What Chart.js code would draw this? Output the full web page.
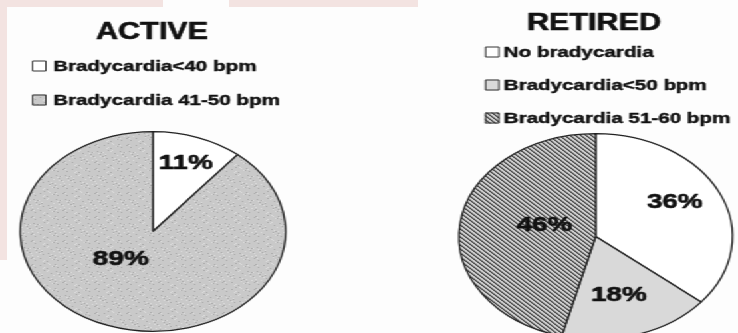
<!DOCTYPE html>
<html><head><meta charset="utf-8">
<script src="https://cdn.jsdelivr.net/npm/chart.js@4/dist/chart.umd.min.js"></script>
<style>
html,body{margin:0;padding:0;background:#fdfdfd;width:738px;height:333px;overflow:hidden;position:relative}
.pink{position:absolute;background:#f3e3e1}
#stage{position:absolute;left:0;top:0;width:555px;height:333px;transform-origin:0 0;transform:scaleX(1.32973)}
#stage canvas{position:absolute;top:0}
</style></head><body>
<div class="pink" style="left:0;top:0;width:163px;height:7px"></div>
<div class="pink" style="left:229px;top:0;width:189px;height:7px"></div>
<div class="pink" style="left:0;top:0;width:7px;height:260px"></div>
<div id="stage">
<canvas id="c1" width="277" height="333" style="left:0"></canvas>
<canvas id="c2" width="278" height="345" style="left:277px"></canvas>
</div>
<script>
// ---- data ----
const titles = ['ACTIVE', 'RETIRED'];
const activeLabels = ['Bradycardia<40 bpm', 'Bradycardia 41-50 bpm'];
const activeValues = [11, 89];
const retiredLabels = ['No bradycardia', 'Bradycardia<50 bpm', 'Bradycardia 51-60 bpm'];
const retiredValues = [36, 18, 46];

// ---- fills ----
function speckle() {
  const c = document.createElement('canvas'); c.width = 24; c.height = 24;
  const g = c.getContext('2d');
  g.fillStyle = '#c9c9c9'; g.fillRect(0, 0, 24, 24);
  for (let y = 0; y < 24; y++) for (let x = 0; x < 24; x++) {
    const h = (x * 37 + y * 91 + x * y * 13) % 17;
    if (h === 0) { g.fillStyle = '#a8a8a8'; g.fillRect(x, y, 1, 1); }
    else if (h === 5) { g.fillStyle = '#dedede'; g.fillRect(x, y, 1, 1); }
  }
  return g.createPattern(c, 'repeat');
}
function hatch() {
  const c = document.createElement('canvas'); c.width = 4; c.height = 4;
  const g = c.getContext('2d');
  g.fillStyle = '#d2d2d2'; g.fillRect(0, 0, 4, 4);
  for (let i = 0; i < 4; i++) {
    g.fillStyle = '#3a3a3a'; g.fillRect(i, i, 1, 1);
    g.fillStyle = '#858585'; g.fillRect((i + 1) % 4, i, 1, 1);
  }
  return g.createPattern(c, 'repeat');
}

const FONT = '"Liberation Sans", Arial, sans-serif';
function boldText(ctx, s, x, y, w) {
  ctx.lineWidth = w; ctx.strokeStyle = '#111'; ctx.lineJoin = 'round';
  ctx.strokeText(s, x, y);
  ctx.fillText(s, x, y);
}
const overlay = {
  id: 'overlay',
  afterDraw(chart, args, o) {
    const ctx = chart.ctx;
    const ds = chart.data.datasets[0];
    ctx.save();
    ctx.fillStyle = '#111';
    ctx.textAlign = 'center'; ctx.textBaseline = 'middle';
    ctx.font = 'bold 23px ' + FONT;
    boldText(ctx, o.title, o.titleX, o.titleY, 0.6);
    ctx.font = 'bold 15.5px ' + FONT;
    ctx.textAlign = 'left';
    chart.data.labels.forEach((lab, i) => {
      const y = o.legendY + i * o.legendGap;
      ctx.fillStyle = ds.backgroundColor[i];
      ctx.fillRect(o.legendX, y - 5.5, 11, 11);
      ctx.strokeStyle = '#333'; ctx.lineWidth = 1;
      ctx.strokeRect(o.legendX + 0.5, y - 5, 10, 10);
      ctx.fillStyle = '#111';
      boldText(ctx, lab, o.legendX + o.textGap, y + 1, 0.45);
    });
    const meta = chart.getDatasetMeta(0);
    ctx.font = 'bold 21px ' + FONT;
    ctx.textAlign = 'center';
    meta.data.forEach((arc, i) => {
      const p = arc.getProps(['x', 'y', 'startAngle', 'endAngle', 'outerRadius'], true);
      const a = (p.startAngle + p.endAngle) / 2 + o.labelShift[i] * Math.PI / 180;
      const r = p.outerRadius * o.labelRadius[i];
      boldText(ctx, ds.data[i] + '%', p.x + Math.cos(a) * r, p.y + Math.sin(a) * r, 0.6);
    });
    ctx.restore();
  }
};

function makePie(id, labels, values, colors, pad, ov) {
  return new Chart(document.getElementById(id), {
    type: 'pie',
    data: { labels: labels, datasets: [{ data: values, backgroundColor: colors, borderColor: '#222', borderWidth: 1.3 }] },
    options: {
      responsive: false, animation: false, events: [],
      layout: { padding: pad },
      plugins: { legend: { display: false }, tooltip: { enabled: false }, overlay: ov }
    },
    plugins: [overlay]
  });
}

makePie('c1', activeLabels, activeValues, ['#ffffff', speckle()],
  { left: 6, right: 53, top: 131, bottom: 1 },
  { title: titles[0], titleX: 114.3, titleY: 33, legendX: 24, legendY: 66, legendGap: 34, textGap: 16,
    labelRadius: [0.73, 0.37], labelShift: [0, 21] });

makePie('c2', retiredLabels, retiredValues, ['#ffffff', '#d9d9d9', hatch()],
  { left: 66, right: 2, top: 133, bottom: 5 },
  { title: titles[1], titleX: 169.7, titleY: 24, legendX: 87.7, legendY: 52, legendGap: 33, textGap: 14,
    labelRadius: [0.665, 0.6, 0.39], labelShift: [-4.5, 1.6, 8.6] });
</script>
</body></html>
